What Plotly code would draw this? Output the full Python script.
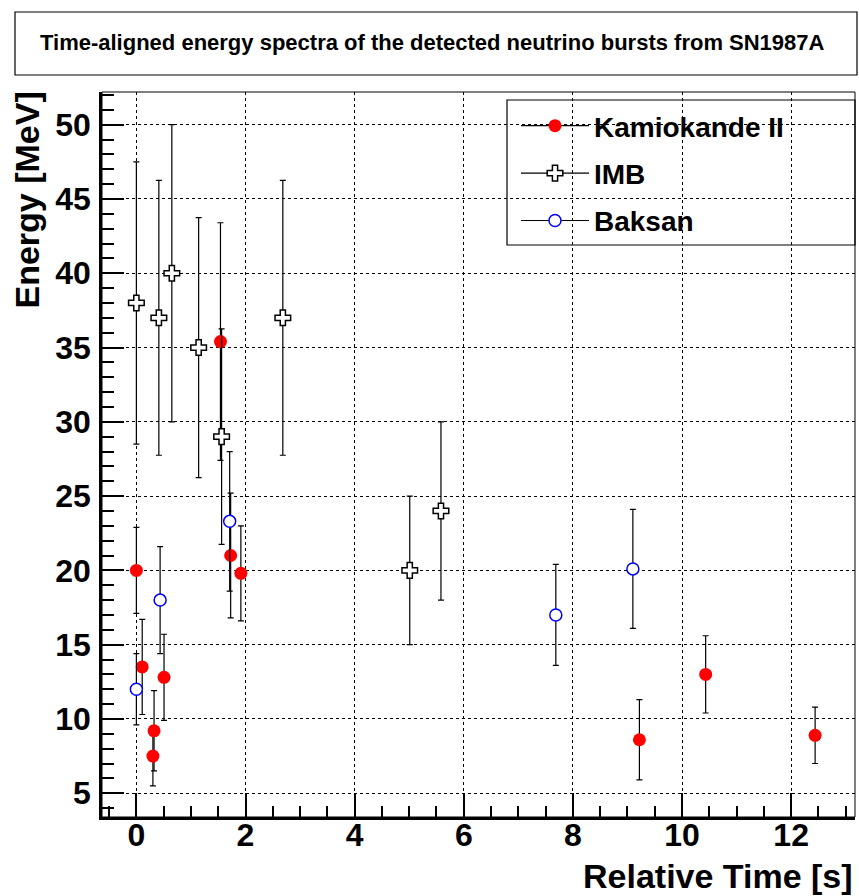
import plotly.graph_objects as go

# ---- data ----
kam_t = [0.0, 0.107, 0.303, 0.324, 0.507, 1.541, 1.728, 1.915, 9.219, 10.433, 12.439]
kam_e = [20.0, 13.5, 7.5, 9.2, 12.8, 35.4, 21.0, 19.8, 8.6, 13.0, 8.9]
kam_err = [2.9, 3.2, 2.0, 2.7, 2.9, 8.0, 4.2, 3.2, 2.7, 2.6, 1.9]

imb_t = [0.0, 0.412, 0.650, 1.141, 1.562, 2.684, 5.010, 5.582]
imb_e = [38.0, 37.0, 40.0, 35.0, 29.0, 37.0, 20.0, 24.0]
imb_err = [9.5, 9.25, 10.0, 8.75, 7.25, 9.25, 5.0, 6.0]

bak_t = [0.0, 0.435, 1.710, 7.687, 9.099]
bak_e = [12.0, 18.0, 23.3, 17.0, 20.1]
bak_err = [2.4, 3.6, 4.7, 3.4, 4.0]

series_names = ["Kamiokande II", "IMB", "Baksan"]
title_text = "Time-aligned energy spectra of the detected neutrino bursts from SN1987A"
x_title = "Relative Time [s]"
y_title = "Energy [MeV]"

FONT = "Liberation Sans"

def err(arr):
    return dict(type="data", array=arr, visible=True, color="black",
                thickness=1.2, width=3)

styles = [
    dict(symbol="circle", size=13, color="#ff0000", line=dict(width=0, color="#ff0000")),
    dict(symbol="cross", size=13, color="white", line=dict(width=1.5, color="black")),
    dict(symbol="circle", size=12, color="white", line=dict(width=1.5, color="#0000ff")),
]

fig = go.Figure()
for (t, e, er), st, name in zip([(kam_t, kam_e, kam_err), (imb_t, imb_e, imb_err), (bak_t, bak_e, bak_err)],
                                 styles, series_names):
    fig.add_trace(go.Scatter(x=t, y=e, mode="markers", marker=st, error_y=err(er),
                             showlegend=False, name=name))

# legend entries (line + marker)
for i, (st, name) in enumerate(zip(styles, series_names)):
    fig.add_trace(go.Scatter(x=[None], y=[None], mode="lines+markers", marker=st,
                             line=dict(color="black", width=1.2), name=name,
                             legendgroup=f"g{i}", showlegend=True))

W, H = 859, 896
L, R, T, B = 102, 855, 92, 817
pw, ph = R - L, B - T

def px(x):
    return (x - L) / pw

def py(y):
    return (B - y) / ph

fig.update_layout(
    width=W, height=H,
    margin=dict(l=L, r=W - R, t=T, b=H - B),
    paper_bgcolor="white", plot_bgcolor="white",
    font=dict(family=FONT, color="black"),
    showlegend=True,
    legend=dict(x=px(516), y=py(101), xanchor="left", yanchor="top",
                bgcolor="rgba(0,0,0,0)", borderwidth=0,
                font=dict(family=FONT, size=28, color="black", weight="bold"),
                itemwidth=68, tracegroupgap=8),
    xaxis=dict(range=[-0.63, 13.17], dtick=2, tick0=0, showgrid=True,
               gridcolor="black", griddash="dot", gridwidth=1,
               zeroline=False, showline=True, linecolor="black", linewidth=2.5,
               ticks="inside", ticklen=24, tickwidth=1.5, tickcolor="black",
               minor=dict(dtick=0.5, ticks="inside", ticklen=11, tickwidth=1.5,
                          tickcolor="black", showgrid=False),
               tickfont=dict(family=FONT, size=32, color="black", weight="bold"),
               ticklabelstandoff=-12),
    yaxis=dict(range=[3.4, 52.2], dtick=5, tick0=0, showgrid=True,
               gridcolor="black", griddash="dot", gridwidth=1,
               zeroline=False, showline=True, linecolor="black", linewidth=2.5,
               ticks="inside", ticklen=22, tickwidth=1.5, tickcolor="black",
               minor=dict(dtick=1, ticks="inside", ticklen=12, tickwidth=1.5,
                          tickcolor="black", showgrid=False),
               tickfont=dict(family=FONT, size=32, color="black", weight="bold"),
               ticklabelstandoff=2),
    shapes=[
        # plot frame (thin top/right)
        dict(type="rect", xref="paper", yref="paper", x0=0, x1=1, y0=0, y1=1,
             line=dict(color="black", width=1), layer="above"),
        # legend box
        dict(type="rect", xref="paper", yref="paper", x0=px(507), x1=px(855),
             y0=py(245), y1=py(100), line=dict(color="black", width=1.2),
             fillcolor="rgba(0,0,0,0)", layer="above"),
        # title box
        dict(type="rect", xref="paper", yref="paper", x0=px(15), x1=px(857),
             y0=py(75), y1=py(12), line=dict(color="black", width=1.2),
             fillcolor="white"),
    ],
    annotations=[
        dict(text=title_text, xref="paper", yref="paper", x=px(432), y=py(43),
             xanchor="center", yanchor="middle", showarrow=False,
             font=dict(family=FONT, size=22, color="black", weight="bold")),
        dict(text=x_title, xref="paper", yref="paper", x=1.0, y=py(876),
             xanchor="right", yanchor="middle", showarrow=False,
             font=dict(family=FONT, size=34, color="black", weight="bold")),
        dict(text=y_title, xref="paper", yref="paper", x=px(27), y=py(90),
             xanchor="center", yanchor="top", showarrow=False, textangle=-90,
             font=dict(family=FONT, size=34, color="black", weight="bold")),
    ],
)

fig.write_html("out.html")
